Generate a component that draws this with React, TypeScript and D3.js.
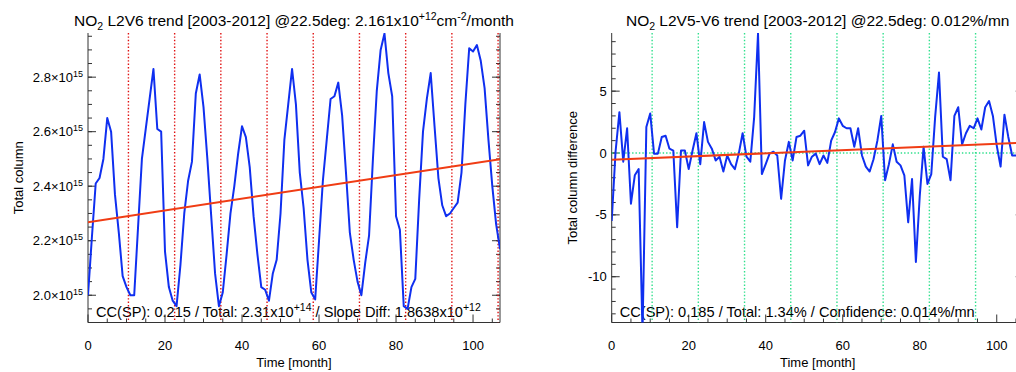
import React from "react";
import * as d3 from "d3";

// ---- data ----
const months: number[] = d3.range(0, 108);
// Left: NO2 total column (units of 1e15 molec/cm2)
const leftValues: number[] = [
  2.0, 2.21, 2.41, 2.43, 2.5, 2.65, 2.6, 2.37, 2.23, 2.07,
  2.03, 2.0, 2.0, 2.25, 2.5, 2.61, 2.72, 2.83, 2.61, 2.6,
  2.16, 2.03, 1.98, 1.96, 2.11, 2.3, 2.42, 2.49, 2.74, 2.81,
  2.69, 2.5, 2.29, 2.08, 1.96, 2.01, 2.15, 2.3, 2.4, 2.52,
  2.62, 2.58, 2.47, 2.29, 2.15, 2.03, 2.02, 1.98, 2.08, 2.13,
  2.3, 2.57, 2.7, 2.83, 2.7, 2.45, 2.32, 2.13, 2.01, 1.985,
  2.2, 2.42, 2.57, 2.72, 2.73, 2.78, 2.66, 2.45, 2.23, 2.13,
  2.05, 2.0, 2.12, 2.22, 2.5, 2.75, 2.9, 2.96, 2.815, 2.73,
  2.29, 2.24, 1.96, 1.95, 2.03, 2.06, 2.35, 2.6, 2.72, 2.815,
  2.62, 2.43, 2.33, 2.29, 2.3, 2.32, 2.34, 2.45, 2.7, 2.906,
  2.894, 2.918, 2.86, 2.76, 2.57, 2.4, 2.26, 2.17,
];
// Right: total column difference (%)
const rightValues: number[] = [
  -5.5, 0.1, 3.3, -0.7, 2.0, -4.1, -1.8, -1.3, -14.5, 2.1,
  3.2, -0.05, -0.05, 1.3, 1.4, 0.35, 0.2, -6.0, 0.2, 0.2,
  -1.3, 0.2, 1.6, -0.9, 2.5, 0.9, 0.35, -0.6, -0.3, -1.5,
  -0.2, -0.9, -1.3, -0.05, 1.6, -0.3, -0.7, 2.9, 9.66, -1.7,
  -0.9, -0.05, 0.1, -0.2, -3.7, -0.6, 0.9, -0.6, 1.3, 1.4,
  1.8, -1.0, -0.3, -0.05, -0.9, -0.2, -0.8, 1.0, 1.7, 2.8,
  2.2, 2.0, 2.0, 0.5, 2.0, -0.2, -1.1, -1.5, -0.5, 1.0,
  3.0, -2.2, -0.9, 0.7, -0.7, -1.0, -1.8, -5.6, -2.1, -8.8,
  -3.5, 0.5, -2.5, -1.7, 2.9, 6.5, -0.3, -0.5, -2.2, 3.0,
  3.7, 0.7, 1.6, 2.2, 2.0, 2.8, 1.9, 3.7, 4.2, 3.0,
  0.6, -1.1, 3.1, 1.3, -0.2, -0.2, -0.2, 0.3,
];
const leftTrendMonths: number[] = [0, 107];
const leftTrendValues: number[] = [2.268, 2.499];
const rightTrendMonths: number[] = [0, 107];
const rightTrendValues: number[] = [-0.54, 0.84];
const yearLines: number[] = [10.5, 22.5, 34.5, 46.5, 58.5, 70.5, 82.5, 94.5, 106.5];
const xTicks: number[] = [0, 20, 40, 60, 80, 100];
const xMinor: number[] = d3.range(0, 107, 5);
const leftYTicks: number[] = [2.0, 2.2, 2.4, 2.6, 2.8];
const leftYTickLabels: string[] = ["2.0", "2.2", "2.4", "2.6", "2.8"];
const leftYMinor: number[] = d3.range(0, 22).map((i) => 1.9 + i * 0.05);
const rightYTicks: number[] = [-10, -5, 0, 5];
const rightYMinor: number[] = d3.range(-13, 10, 1);

const FONT = "'Liberation Sans', Arial, Helvetica, sans-serif";
const AXIS = "#333";
const BLUE = "#0f2ff0";
const TREND = "#f03c14";

const TOP = 33;
const BOTTOM = 322.5;

// rich text parts: [text, shift] where shift = 0 normal, -1 superscript, 1 subscript
type Part = [string, number];
function rich(parts: Part[], supSize: number) {
  let cur = 0;
  return parts.map(([t, s], i) => {
    const target = s === -1 ? -6 : s === 1 ? 4 : 0;
    const dy = target - cur;
    cur = target;
    return (
      <tspan key={i} dy={dy} fontSize={s === 0 ? undefined : supSize}>
        {t}
      </tspan>
    );
  });
}

type PanelProps = {
  id: string;
  x0: number;
  x1: number;
  yDomain: [number, number];
  values: number[];
  trendM: number[];
  trendV: number[];
  vColor: string;
  hZero: boolean;
  yTicks: number[];
  yMinor: number[];
  yLabel: (v: number, i: number) => React.ReactNode;
  yTitle: string;
  yTitleX: number;
  title: Part[];
  note: Part[];
};

function Panel(p: PanelProps) {
  const x = d3.scaleLinear().domain([0, 107]).range([p.x0, p.x1]);
  const y = d3.scaleLinear().domain(p.yDomain).range([BOTTOM, TOP]);
  const line = d3
    .line<number>()
    .x((_, i) => x(months[i]))
    .y((d) => y(d));
  const trend = d3
    .line<number>()
    .x((_, i) => x(p.trendM[i]))
    .y((d) => y(d));
  const cx = (p.x0 + p.x1) / 2;
  return (
    <g>
      <defs>
        <clipPath id={p.id}>
          <rect x={p.x0} y={TOP} width={p.x1 - p.x0} height={BOTTOM - TOP} />
        </clipPath>
      </defs>
      <text x={cx} y={26} fontSize={15.5} textAnchor="middle" fontFamily={FONT} fill="#000">
        {rich(p.title, 10.5)}
      </text>
      <text x={p.x0 + 8} y={316.5} fontSize={14.6} fontFamily={FONT} fill="#000">
        {rich(p.note, 10.5)}
      </text>
      {/* axes */}
      <g stroke={AXIS} strokeWidth={1} fill="none">
        <line x1={p.x0} x2={p.x0} y1={TOP} y2={BOTTOM} />
        <line x1={p.x1} x2={p.x1} y1={TOP} y2={BOTTOM} />
        <line x1={p.x0} x2={p.x1} y1={BOTTOM} y2={BOTTOM} />
        {xTicks.map((t) => (
          <line key={"xt" + t} x1={x(t)} x2={x(t)} y1={BOTTOM} y2={BOTTOM - 8} />
        ))}
        {xMinor.filter((t) => t % 20 !== 0).map((t) => (
          <line key={"xm" + t} x1={x(t)} x2={x(t)} y1={BOTTOM} y2={BOTTOM - 4} />
        ))}
        {p.yTicks.map((t) => (
          <g key={"yt" + t}>
            <line x1={p.x0} x2={p.x0 + 8} y1={y(t)} y2={y(t)} />
            <line x1={p.x1} x2={p.x1 - 8} y1={y(t)} y2={y(t)} />
          </g>
        ))}
        {p.yMinor.map((t) => (
          <g key={"ym" + t}>
            <line x1={p.x0} x2={p.x0 + 4} y1={y(t)} y2={y(t)} />
            <line x1={p.x1} x2={p.x1 - 4} y1={y(t)} y2={y(t)} />
          </g>
        ))}
      </g>
      {xTicks.map((t) => (
        <text key={"xl" + t} x={x(t)} y={350} fontSize={13} textAnchor="middle" fontFamily={FONT}>
          {t}
        </text>
      ))}
      <text x={cx} y={366.5} fontSize={13} textAnchor="middle" fontFamily={FONT}>
        Time [month]
      </text>
      {p.yTicks.map((t, i) => (
        <text key={"yl" + t} x={p.x0 - 5} y={y(t) + 4.5} fontSize={13} textAnchor="end" fontFamily={FONT}>
          {p.yLabel(t, i)}
        </text>
      ))}
      <text
        transform={`translate(${p.yTitleX},${(TOP + BOTTOM) / 2}) rotate(-90)`}
        fontSize={13}
        textAnchor="middle"
        fontFamily={FONT}
      >
        {p.yTitle}
      </text>
      <g clipPath={`url(#${p.id})`}>
        {yearLines.map((m) => (
          <line
            key={"yr" + m}
            x1={x(m)}
            x2={x(m)}
            y1={TOP}
            y2={BOTTOM}
            stroke={p.vColor}
            strokeWidth={1.4}
            strokeDasharray="1.4,2"
          />
        ))}
        {p.hZero && (
          <line
            x1={p.x0}
            x2={p.x1}
            y1={y(0)}
            y2={y(0)}
            stroke={p.vColor}
            strokeWidth={1.4}
            strokeDasharray="1.4,2"
          />
        )}
        <path d={line(p.values) || ""} fill="none" stroke={BLUE} strokeWidth={2} strokeLinejoin="round" />
        <path d={trend(p.trendV) || ""} fill="none" stroke={TREND} strokeWidth={2} />
      </g>
    </g>
  );
}

export default function App() {
  return (
    <svg
      width={1016}
      height={372}
      style={{ position: "absolute", left: 0, top: 0, background: "#fff" }}
    >
      <rect width={1016} height={372} fill="#fff" />
      <Panel
        id="clipL"
        x0={88}
        x1={500}
        yDomain={[1.9, 2.962]}
        values={leftValues}
        trendM={leftTrendMonths}
        trendV={leftTrendValues}
        vColor="#e01010"
        hZero={false}
        yTicks={leftYTicks}
        yMinor={leftYMinor}
        yLabel={(_, i) => (
          <>
            <tspan>{leftYTickLabels[i] + "×10"}</tspan>
            <tspan dy={-5} fontSize={9}>15</tspan>
          </>
        )}
        yTitle="Total column"
        yTitleX={23}
        title={[
          ["NO", 0],
          ["2", 1],
          [" L2V6 trend [2003-2012] @22.5deg: 2.161x10", 0],
          ["+12", -1],
          ["cm", 0],
          ["-2", -1],
          ["/month", 0],
        ]}
        note={[
          ["CC(SP): 0.215 / Total: 2.31x10", 0],
          ["+14", -1],
          [" / Slope Diff: 1.8638x10", 0],
          ["+12", -1],
        ]}
      />
      <Panel
        id="clipR"
        x0={611.7}
        x1={1023.7}
        yDomain={[-13.7, 9.7]}
        values={rightValues}
        trendM={rightTrendMonths}
        trendV={rightTrendValues}
        vColor="#2ee08c"
        hZero={true}
        yTicks={rightYTicks}
        yMinor={rightYMinor}
        yLabel={(t) => <tspan>{String(t)}</tspan>}
        yTitle="Total column difference"
        yTitleX={576.5}
        title={[
          ["NO", 0],
          ["2", 1],
          [" L2V5-V6 trend [2003-2012] @22.5deg: 0.012%/mn", 0],
        ]}
        note={[["CC(SP): 0.185 / Total: 1.34% / Confidence: 0.014%/mn", 0]]}
      />
    </svg>
  );
}
